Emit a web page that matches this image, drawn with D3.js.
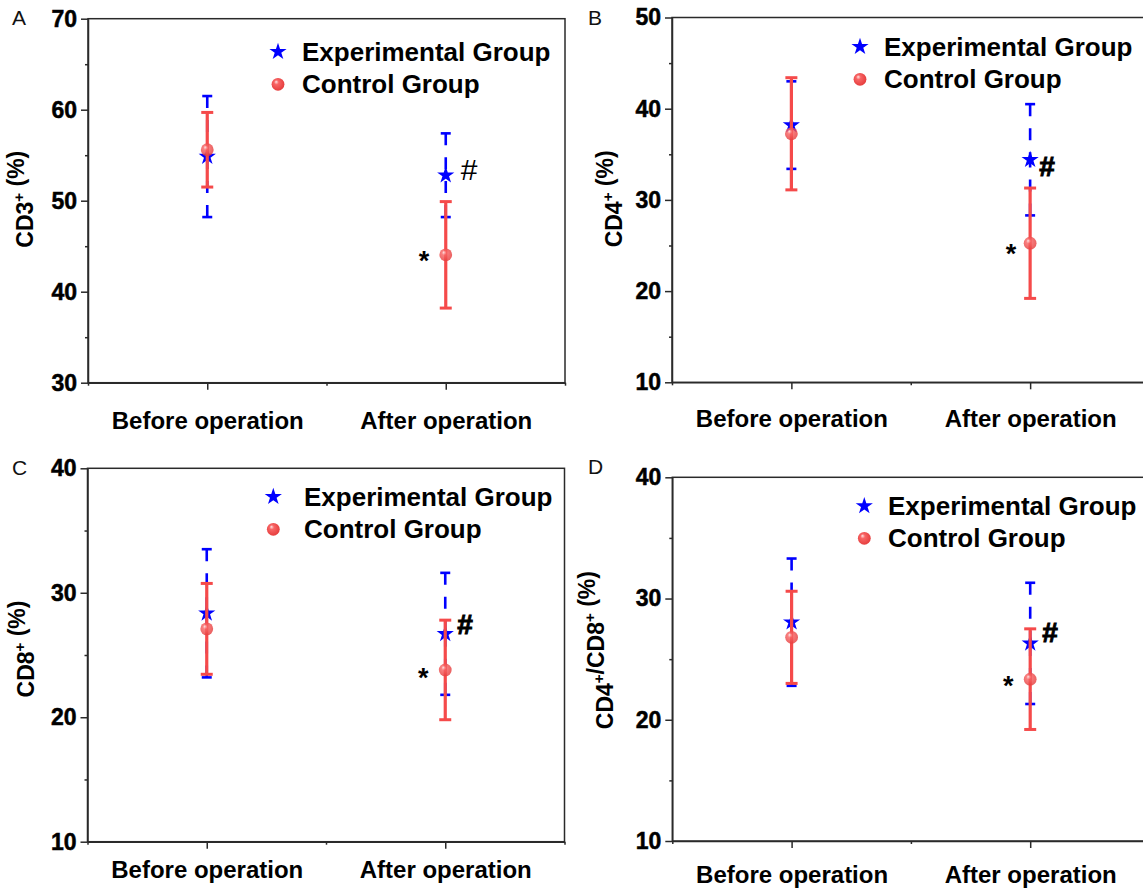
<!DOCTYPE html>
<html>
<head>
<meta charset="utf-8">
<script src="https://cdn.jsdelivr.net/npm/d3@7"></script>
<style>
  html, body { margin: 0; padding: 0; background: #fff; }
  svg { display: block; font-family: "Liberation Sans", Arial, sans-serif; }
</style>
</head>
<body>
<svg id="fig" width="1143" height="890"></svg>
<script>
// ---- data ----
const categories = ["Before operation", "After operation"];
const seriesNames = ["Experimental Group", "Control Group"];

const cd3Exp = [54.85, 52.8],  cd3ExpSD = [6.65, 4.6];
const cd3Ctl = [55.6, 44.05],  cd3CtlSD = [4.1, 5.85];
const cd4Exp = [38.2, 34.4],   cd4ExpSD = [4.8, 6.1];
const cd4Ctl = [37.25, 25.25], cd4CtlSD = [6.15, 6.05];
const cd8Exp = [28.35, 26.7],  cd8ExpSD = [5.15, 4.9];
const cd8Ctl = [27.1, 23.8],   cd8CtlSD = [3.65, 4.0];
const ratioExp = [28.05, 26.3], ratioExpSD = [5.25, 5.0];
const ratioCtl = [26.8, 23.35], ratioCtlSD = [3.8, 4.15];

const cd3Ticks = [30, 40, 50, 60, 70];
const cd4Ticks = [10, 20, 30, 40, 50];
const cd8Ticks = [10, 20, 30, 40];
const ratioTicks = [10, 20, 30, 40];

// significance marks per category
const expMarks = ["", "#"];
const ctlMarks = ["", "*"];

// axis titles as [text, isSuperscript] parts
const cd3Title = [["CD3", false], ["+", true], [" (%)", false]];
const cd4Title = [["CD4", false], ["+", true], [" (%)", false]];
const cd8Title = [["CD8", false], ["+", true], [" (%)", false]];
const ratioTitle = [["CD4", false], ["+", true], ["/CD8", false], ["+", true], [" (%)", false]];

// ---- layout ----
const panels = [
  { letter: "A", letterPos: [12, 25], exp: cd3Exp, expSD: cd3ExpSD, ctl: cd3Ctl, ctlSD: cd3CtlSD,
    ticks: cd3Ticks, title: cd3Title, box: [88, 18.7, 565, 382.7], titleX: 25, titleDy: -1.5,
    labelPad: 22, legend: { x: 278, y1: 51.7, y2: 84.3, tx: 302 },
    hash: { dx: 15, dy: 5, weight: "normal", size: 30, stroke: 0 }, star: { dx: -21.7, dy: 15.6 } },
  { letter: "B", letterPos: [588, 25], exp: cd4Exp, expSD: cd4ExpSD, ctl: cd4Ctl, ctlSD: cd4CtlSD,
    ticks: cd4Ticks, title: cd4Title, box: [672, 17.5, 1149.5, 382.3], titleX: 614, titleDy: -1,
    labelPad: 20.6, legend: { x: 860, y1: 46.7, y2: 79.3, tx: 884 },
    hash: { dx: 9, dy: 16, weight: "bold", size: 28, stroke: 1 }, star: { dx: -19, dy: 19.4 } },
  { letter: "C", letterPos: [12, 475], exp: cd8Exp, expSD: cd8ExpSD, ctl: cd8Ctl, ctlSD: cd8CtlSD,
    ticks: cd8Ticks, title: cd8Title, box: [87.5, 468.3, 564.5, 841.7], titleX: 26, titleDy: -6,
    labelPad: 12.3, legend: { x: 273.3, y1: 496.7, y2: 529.3, tx: 304 },
    hash: { dx: 12, dy: 0.5, weight: "bold", size: 28, stroke: 1 }, star: { dx: -22, dy: 17 } },
  { letter: "D", letterPos: [588, 474], exp: ratioExp, expSD: ratioExpSD, ctl: ratioCtl, ctlSD: ratioCtlSD,
    ticks: ratioTicks, title: ratioTitle, box: [672.3, 477.3, 1149.5, 841], titleX: 605, titleDy: -9,
    labelPad: 18, legend: { x: 864.3, y1: 506, y2: 538.3, tx: 888 },
    hash: { dx: 12, dy: -1.5, weight: "bold", size: 28, stroke: 1 }, star: { dx: -22, dy: 16.3 } }
];

const BLUE = "#0000ff";
const RED = "#f54a4a";
const AXIS = "#2a2a2a";
const FONT = "'Liberation Sans', Arial, sans-serif";

const svg = d3.select("#fig");

// shaded ball fill for the control symbols
const defs = svg.append("defs");
const grad = defs.append("radialGradient").attr("id", "ball")
  .attr("cx", "0.45").attr("cy", "0.45").attr("r", "0.6")
  .attr("fx", "0.35").attr("fy", "0.3");
grad.append("stop").attr("offset", "0%").attr("stop-color", "#ffe4e4");
grad.append("stop").attr("offset", "30%").attr("stop-color", "#f86565");
grad.append("stop").attr("offset", "100%").attr("stop-color", "#e43a3a");

const starPath = d3.symbol().type(d3.symbolStar).size(92)();

panels.forEach(p => {
  const [x0, y0, x1, y1] = p.box;
  const g = svg.append("g");

  const x = d3.scaleLinear().domain([0.5, 2.5]).range([x0, x1]);
  const y = d3.scaleLinear().domain(d3.extent(p.ticks)).range([y1, y0]);
  const catX = i => x(i + 1);

  // panel letter
  svg.append("text").attr("x", p.letterPos[0]).attr("y", p.letterPos[1])
    .attr("font-size", 21).attr("fill", "#111").text(p.letter);

  // frame
  g.append("rect").attr("x", x0).attr("y", y0).attr("width", x1 - x0).attr("height", y1 - y0)
    .attr("fill", "none").attr("stroke", AXIS).attr("stroke-width", 1.5);

  // y axis: major + minor ticks
  const minorY = p.ticks.slice(1).map((t, i) => (t + p.ticks[i]) / 2);
  const yAxis = g.append("g").attr("transform", `translate(${x0},0)`)
    .call(d3.axisLeft(y).tickValues(p.ticks).tickSize(7).tickSizeOuter(0).tickPadding(4).tickFormat(d3.format("d")));
  g.append("g").attr("transform", `translate(${x0},0)`)
    .call(d3.axisLeft(y).tickValues(minorY).tickSize(3).tickSizeOuter(0).tickFormat(""))
    .select(".domain").remove();

  // x axis: category ticks + minor ticks
  const xAxis = g.append("g").attr("transform", `translate(0,${y1})`)
    .call(d3.axisBottom(x).tickValues([1, 2]).tickSize(7).tickSizeOuter(0).tickPadding(p.labelPad)
      .tickFormat(d => categories[d - 1]));
  g.append("g").attr("transform", `translate(0,${y1})`)
    .call(d3.axisBottom(x).tickValues([0.5, 1.5, 2.5]).tickSize(3).tickSizeOuter(0).tickFormat(""))
    .select(".domain").remove();

  g.selectAll(".tick line").attr("stroke", AXIS).attr("stroke-width", 1.5);
  g.selectAll(".domain").attr("stroke", AXIS).attr("stroke-width", 1.5);
  yAxis.attr("font-size", 23).attr("font-family", FONT);
  yAxis.selectAll("text").attr("font-size", 23).attr("font-weight", "bold").attr("fill", "#000")
    .attr("stroke", "#000").attr("stroke-width", 0.5);
  xAxis.attr("font-size", 24).attr("font-family", FONT);
  xAxis.selectAll("text").attr("font-size", 24).attr("font-weight", "bold").attr("fill", "#000");

  // y-axis title
  const cy = (y0 + y1) / 2 + p.titleDy;
  const title = svg.append("text")
    .attr("transform", `translate(${p.titleX},${cy}) rotate(-90)`)
    .attr("text-anchor", "middle").attr("dy", "0.36em")
    .attr("font-size", 23).attr("font-weight", "bold").attr("fill", "#000");
  p.title.forEach(([t, sup]) => {
    if (sup) {
      title.append("tspan").attr("font-size", 15).attr("dy", -9).text(t);
      title.append("tspan").attr("font-size", 23).attr("dy", 9).text("");
    } else {
      title.append("tspan").text(t);
    }
  });

  // experimental group error bars (dashed, drawn from each cap toward the mean)
  const eb = g.append("g");
  p.exp.forEach((m, i) => {
    const cx = catX(i);
    [m + p.expSD[i], m - p.expSD[i]].forEach(end => {
      eb.append("line").attr("x1", cx).attr("x2", cx).attr("y1", y(end)).attr("y2", y(m))
        .attr("stroke", BLUE).attr("stroke-width", 2.6).attr("stroke-dasharray", "12,12");
      eb.append("line").attr("x1", cx - 5).attr("x2", cx + 5).attr("y1", y(end)).attr("y2", y(end))
        .attr("stroke", BLUE).attr("stroke-width", 2.6);
    });
  });
  g.append("g").selectAll("path").data(p.exp).join("path")
    .attr("d", starPath).attr("fill", BLUE)
    .attr("transform", (d, i) => `translate(${catX(i)},${y(d)})`);

  // control group error bars (solid)
  const cb = g.append("g");
  p.ctl.forEach((m, i) => {
    const cx = catX(i);
    const lo = m - p.ctlSD[i], hi = m + p.ctlSD[i];
    cb.append("line").attr("x1", cx).attr("x2", cx).attr("y1", y(hi)).attr("y2", y(lo))
      .attr("stroke", RED).attr("stroke-width", 3.2);
    [lo, hi].forEach(v => cb.append("line").attr("x1", cx - 6).attr("x2", cx + 6)
      .attr("y1", y(v)).attr("y2", y(v)).attr("stroke", RED).attr("stroke-width", 3));
  });
  g.append("g").selectAll("circle").data(p.ctl).join("circle")
    .attr("cx", (d, i) => catX(i)).attr("cy", d => y(d)).attr("r", 6.4)
    .attr("fill", "url(#ball)").attr("fill-opacity", 0.82);

  // significance marks
  p.exp.forEach((m, i) => {
    if (!expMarks[i]) return;
    g.append("text").attr("x", catX(i) + p.hash.dx).attr("y", y(m) + p.hash.dy)
      .attr("font-size", p.hash.size).attr("font-weight", p.hash.weight).attr("fill", "#000")
      .attr("stroke", "#000").attr("stroke-width", p.hash.stroke).text(expMarks[i]);
  });
  p.ctl.forEach((m, i) => {
    if (!ctlMarks[i]) return;
    g.append("text").attr("x", catX(i) + p.star.dx).attr("y", y(m) + p.star.dy)
      .attr("text-anchor", "middle").attr("font-size", 27).attr("font-weight", "bold")
      .attr("fill", "#000").text(ctlMarks[i]);
  });

  // legend
  const L = p.legend;
  g.append("path").attr("d", starPath).attr("fill", BLUE).attr("transform", `translate(${L.x},${L.y1})`);
  g.append("circle").attr("cx", L.x).attr("cy", L.y2).attr("r", 6.4).attr("fill", "url(#ball)");
  [[seriesNames[0], L.y1], [seriesNames[1], L.y2]].forEach(([t, ly]) => {
    g.append("text").attr("x", L.tx).attr("y", ly + 8.8)
      .attr("font-size", 26).attr("font-weight", "bold").attr("fill", "#000").text(t);
  });
});
</script>
</body>
</html>
